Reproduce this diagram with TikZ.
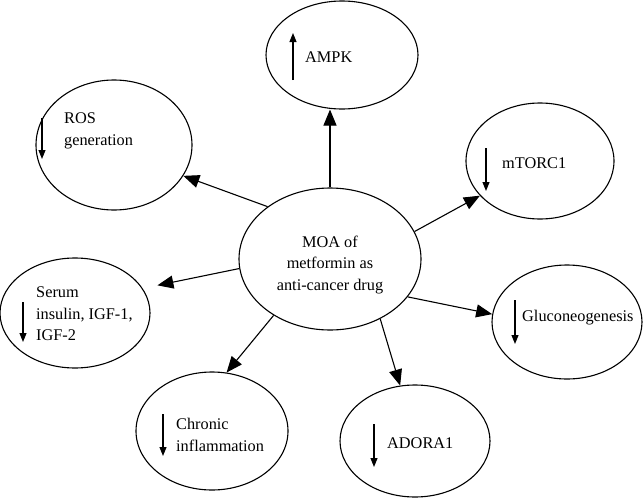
\documentclass[tikz,border=0pt]{standalone}
\usepackage{fontspec}
\setmainfont{Liberation Serif}
\usetikzlibrary{shapes.geometric,arrows.meta}
\begin{document}
\begin{tikzpicture}[x=1pt,y=-1pt,
  oval/.style={ellipse, draw, line width=1.1pt, inner sep=0pt},
  lbl/.style={font=\fontsize{16.3}{21.5}\selectfont, inner sep=0pt, align=left, anchor=west},
  big/.style={line width=1.1pt, -{Triangle[length=16pt,width=13pt]}},
  small/.style={line width=1.1pt, -{Triangle[length=9pt,width=7pt]}}]
\useasboundingbox[fill=white] (0,0) rectangle (643,498);
% ovals
\node[oval, minimum width=182pt, minimum height=142pt] (c) at (330,259) {};
\node[oval, minimum width=152pt, minimum height=108pt] (ampk) at (342,55) {};
\node[oval, minimum width=156pt, minimum height=130pt] (ros) at (114,145) {};
\node[oval, minimum width=148pt, minimum height=116pt] (mtorc) at (540,161) {};
\node[oval, minimum width=150pt, minimum height=114pt] (gluco) at (567,322) {};
\node[oval, minimum width=150pt, minimum height=110pt] (serum) at (75,313) {};
\node[oval, minimum width=152pt, minimum height=118pt] (chron) at (212,431) {};
\node[oval, minimum width=150pt, minimum height=112pt] (adora) at (415,441) {};
% labels
\node[lbl, align=center, anchor=center] (ct) at (330,265) {MOA of\\metformin as\\anti-cancer drug};
\node[lbl] (ampkt) at (305,57) {AMPK};
\node[lbl] (rost) at (64,131) {ROS\\generation};
\node[lbl] (mtorct) at (502,163) {mTORC1};
\node[lbl] (glucot) at (522,318) {Gluconeogenesis};
\node[lbl] (serumt) at (36,314) {Serum\\insulin, IGF-1,\\IGF-2};
\node[lbl] (chront) at (176,435) {Chronic\\inflammation};
\node[lbl] (adorat) at (387,443) {ADORA1};
% small up/down arrows
\draw[small] (293,80) -- (293,33);
\draw[small] (42,118) -- (42,159);
\draw[small] (486,148) -- (486,191);
\draw[small] (515,300) -- (515,344);
\draw[small] (23,302) -- (23,342);
\draw[small] (163,414) -- (163,456);
\draw[small] (374,424) -- (374,467);
% connectors
\draw[big] (c.north) -- (c.north |- ampk.south);
\draw[big] (c.140) -- (ros.-24);
\draw[big] (c.18) -- (mtorc.210);
\draw[big] (c.-26) -- (gluco.174);
\draw[big] (c.-50) -- (adora.105);
\draw[big] (c.225) -- (chron.76);
\draw[big, shorten >=15pt] (c.186) -- (serum.20);
\end{tikzpicture}
\end{document}
